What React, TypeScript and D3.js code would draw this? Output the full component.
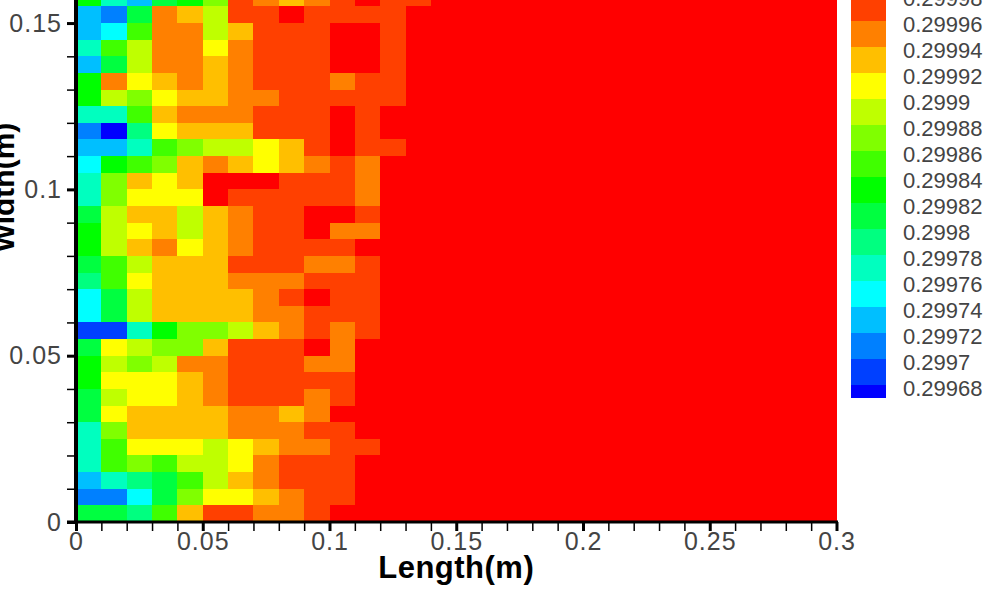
import React, { useEffect, useRef } from 'react'
import * as d3 from 'd3'

// contour bands, 0 = below 0.29968 ... 16 = above 0.29998
const bandColors = [
  '#0000ff', '#0040ff', '#0080ff', '#00bfff', '#00ffff', '#00ffbf', '#00ff80', '#00ff40', '#00ff00',
  '#40ff00', '#80ff00', '#bfff00', '#ffff00', '#ffbf00', '#ff8000', '#ff4000', '#ff0000',
]
const legendLevels = [
  0.29968, 0.2997, 0.29972, 0.29974, 0.29976, 0.29978, 0.2998, 0.29982,
  0.29984, 0.29986, 0.29988, 0.2999, 0.29992, 0.29994, 0.29996, 0.29998,
]
const legendLabels = [
  '0.29968', '0.2997', '0.29972', '0.29974', '0.29976', '0.29978', '0.2998', '0.29982',
  '0.29984', '0.29986', '0.29988', '0.2999', '0.29992', '0.29994', '0.29996', '0.29998',
]

// band of each cell, bottom row first; cells past the end of a row stay in the top band
const rows = [
  [7, 7, 6, 9, 13, 15, 15, 14, 14, 15],
  [2, 2, 4, 7, 10, 12, 12, 13, 14, 15, 15],
  [3, 5, 6, 7, 9, 11, 13, 14, 15, 15, 15],
  [5, 9, 10, 9, 11, 11, 12, 14, 15, 15, 15],
  [5, 9, 12, 12, 12, 11, 12, 13, 14, 14, 15, 15],
  [5, 10, 13, 13, 13, 13, 14, 14, 14, 15, 15],
  [7, 12, 13, 13, 13, 13, 14, 14, 13, 14],
  [7, 11, 12, 12, 13, 14, 15, 15, 15, 14, 15],
  [8, 12, 12, 12, 13, 14, 15, 15, 15, 15, 15],
  [8, 11, 10, 11, 14, 14, 15, 15, 15, 14, 14],
  [7, 12, 11, 10, 10, 13, 15, 15, 15, 16, 14],
  [1, 1, 5, 8, 10, 10, 11, 13, 14, 15, 14, 15],
  [4, 7, 11, 13, 13, 13, 13, 14, 14, 15, 15, 15],
  [4, 7, 11, 13, 13, 13, 13, 14, 15, 16, 15, 15],
  [6, 9, 12, 13, 13, 13, 14, 14, 14, 15, 15, 15],
  [7, 9, 11, 13, 13, 13, 15, 15, 15, 14, 14, 15],
  [8, 11, 13, 14, 12, 13, 14, 15, 15, 15, 15],
  [8, 11, 12, 13, 11, 13, 14, 15, 15, 16, 14, 14],
  [7, 11, 13, 13, 11, 13, 14, 15, 15, 16, 16, 15],
  [5, 10, 12, 12, 12, 16, 15, 15, 15, 15, 15, 14],
  [5, 10, 13, 12, 13, 16, 16, 16, 15, 15, 15, 14],
  [4, 8, 9, 10, 13, 14, 13, 12, 13, 14, 15, 14],
  [3, 3, 5, 9, 10, 11, 11, 12, 13, 15, 16, 15, 15],
  [2, 0, 6, 12, 13, 13, 13, 15, 15, 15, 16, 15],
  [5, 5, 9, 13, 14, 14, 14, 15, 15, 15, 16, 15],
  [8, 11, 10, 12, 13, 13, 14, 14, 15, 15, 15, 15, 15],
  [8, 14, 12, 13, 14, 13, 14, 15, 15, 15, 14, 15, 15],
  [3, 7, 11, 14, 14, 13, 14, 15, 15, 15, 16, 16, 15],
  [5, 9, 11, 14, 14, 12, 14, 15, 15, 15, 16, 16, 15],
  [3, 4, 9, 14, 14, 11, 13, 15, 15, 15, 16, 16, 15],
  [3, 2, 7, 14, 13, 11, 15, 15, 16, 15, 15, 15, 15],
  [8, 5, 3, 7, 8, 10, 15, 14, 13, 14, 15, 16, 15, 15],
]

const columnCount = 30
const cellW = 0.01
const cellH = 0.005

const xMajorTicks = [0, 0.05, 0.1, 0.15, 0.2, 0.25, 0.3]
const xMinorTicks = [0.01, 0.02, 0.03, 0.04, 0.06, 0.07, 0.08, 0.09, 0.11, 0.12, 0.13, 0.14, 0.16, 0.17, 0.18, 0.19, 0.21, 0.22, 0.23, 0.24, 0.26, 0.27, 0.28, 0.29]
const yMajorTicks = [0, 0.05, 0.1, 0.15]
const yMinorTicks = [0.01, 0.02, 0.03, 0.04, 0.06, 0.07, 0.08, 0.09, 0.11, 0.12, 0.13, 0.14]

const font = '"Liberation Sans", Arial, sans-serif'
const inkColor = '#444'

export default function App() {
  const svgRef = useRef<SVGSVGElement>(null)

  useEffect(() => {
    const svg = d3.select(svgRef.current)
    svg.selectAll('*').remove()

    const x = d3.scaleLinear().domain([0, 0.3]).range([76, 836.5])
    const y = d3.scaleLinear().domain([0, 0.16]).range([522, -10.2])
    const legendY = d3.scaleLinear().domain([0.29968, 0.29998]).range([385, -5])

    // Cells
    const g = svg.append('g').attr('shape-rendering', 'crispEdges')
    rows.forEach((row, r) => {
      d3.range(columnCount).forEach((c) => {
        g.append('rect')
          .attr('x', x(c * cellW))
          .attr('y', y((r + 1) * cellH))
          .attr('width', x((c + 1) * cellW) - x(c * cellW))
          .attr('height', y(r * cellH) - y((r + 1) * cellH))
          .attr('fill', bandColors[row[c] ?? 16])
      })
    })

    // Axes
    const fmt = (d: d3.NumberValue) => String(+d)
    const styleAxis = (sel: any, w: number) => {
      sel.select('.domain').remove()
      sel.selectAll('line').attr('stroke', '#000').attr('stroke-width', w)
      sel.selectAll('text')
        .attr('font-family', font)
        .attr('font-size', 25)
        .attr('letter-spacing', 1)
        .attr('fill', inkColor)
    }

    const xAt = `translate(0,522)`
    svg.append('g').attr('transform', xAt)
      .call(d3.axisBottom(x).tickValues(xMinorTicks).tickFormat(() => '').tickSize(9).tickSizeOuter(0))
      .call(styleAxis, 1.5)
    svg.append('g').attr('transform', xAt)
      .call(d3.axisBottom(x).tickValues(xMajorTicks).tickFormat(fmt).tickSize(9).tickPadding(1).tickSizeOuter(0))
      .call(styleAxis, 3)

    const yAt = `translate(76,0)`
    svg.append('g').attr('transform', yAt)
      .call(d3.axisLeft(y).tickValues(yMinorTicks).tickFormat(() => '').tickSize(9).tickSizeOuter(0))
      .call(styleAxis, 1.5)
    svg.append('g').attr('transform', yAt)
      .call(d3.axisLeft(y).tickValues(yMajorTicks).tickFormat(fmt).tickSize(9).tickPadding(5).tickSizeOuter(0))
      .call(styleAxis, 3)

    svg.append('line')
      .attr('x1', 76).attr('x2', 76).attr('y1', -10).attr('y2', 524)
      .attr('stroke', '#000').attr('stroke-width', 4)
    svg.append('line')
      .attr('x1', 67).attr('x2', 838).attr('y1', 522).attr('y2', 522)
      .attr('stroke', '#000').attr('stroke-width', 3)

    // Axis titles
    svg.append('text')
      .attr('x', x(0.15)).attr('y', 578)
      .attr('text-anchor', 'middle')
      .attr('font-family', font).attr('font-weight', 700).attr('font-size', 31)
      .attr('letter-spacing', 0.5)
      .attr('fill', '#000')
      .text('Length(m)')
    svg.append('text')
      .attr('transform', 'translate(14,187.5) rotate(-90)')
      .attr('text-anchor', 'middle')
      .attr('font-family', font).attr('font-weight', 700).attr('font-size', 30)
      .attr('fill', '#000')
      .text('Width(m)')

    // Legend
    const legend = svg.append('g')
    legendLevels.forEach((level, i) => {
      const top = legendY(level)
      const bottom = i === 0 ? top + 13 : legendY(legendLevels[i - 1])
      legend.append('rect')
        .attr('x', 851).attr('width', 35)
        .attr('y', top).attr('height', bottom - top)
        .attr('fill', bandColors[i])
        .attr('shape-rendering', 'crispEdges')
      legend.append('text')
        .attr('x', 903).attr('y', top + 11)
        .attr('font-family', font).attr('font-size', 22)
        .attr('fill', inkColor)
        .text(legendLabels[i])
    })
  }, [])

  return (
    <svg
      ref={svgRef}
      width={997}
      height={598}
      style={{ position: 'absolute', left: 0, top: 0, background: '#fff' }}
    />
  )
}
